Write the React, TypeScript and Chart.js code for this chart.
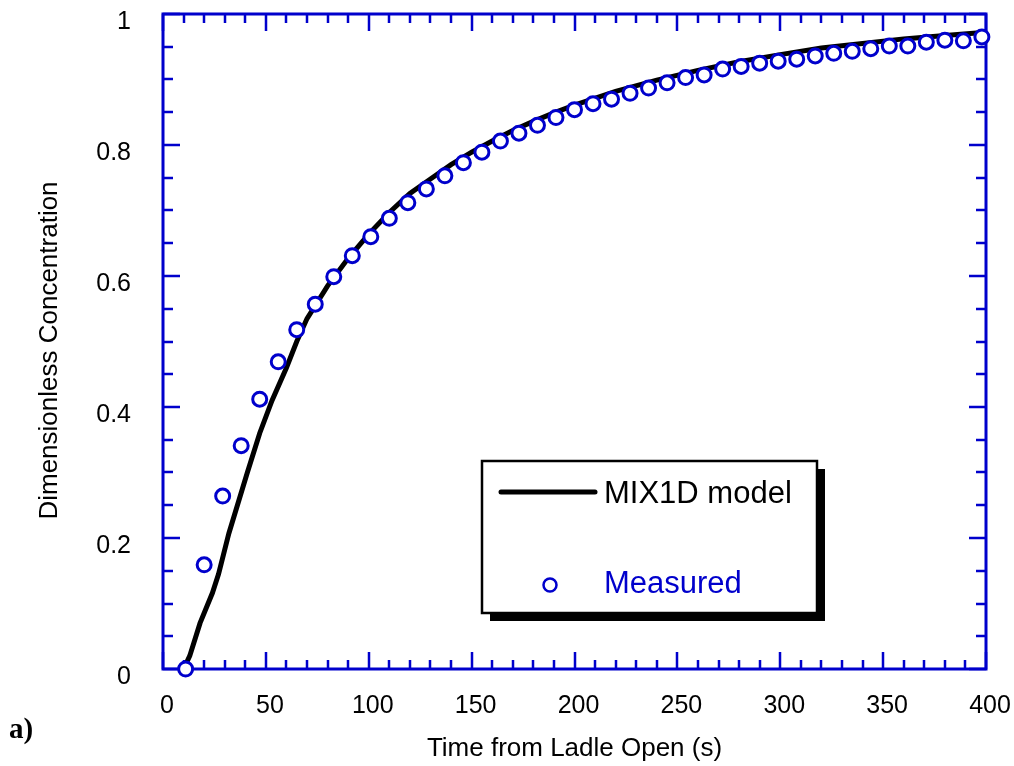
import React, { useEffect, useRef } from "react";
import { Chart, registerables } from "chart.js";

Chart.register(...registerables);

// ---- data ----
const measuredTime = [11, 20, 29, 38, 47, 56, 65, 74, 83, 92, 101, 110, 119, 128, 137, 146, 155, 164, 173, 182, 191, 200, 209, 218, 227, 236, 245, 254, 263, 272, 281, 290, 299, 308, 317, 326, 335, 344, 353, 362, 371, 380, 389, 398];
const measuredConc = [0.0, 0.159, 0.264, 0.341, 0.412, 0.469, 0.518, 0.557, 0.599, 0.631, 0.66, 0.688, 0.712, 0.733, 0.753, 0.773, 0.789, 0.806, 0.818, 0.83, 0.842, 0.854, 0.863, 0.87, 0.879, 0.887, 0.895, 0.903, 0.907, 0.916, 0.92, 0.925, 0.928, 0.931, 0.936, 0.94, 0.943, 0.947, 0.951, 0.951, 0.957, 0.96, 0.959, 0.965];

const modelTime = [10, 13, 18, 24, 27, 32, 41, 47, 53, 60, 65, 70, 80, 90, 100, 110, 120, 130, 140, 150, 160, 170, 180, 190, 200, 220, 240, 260, 280, 300, 320, 340, 360, 380, 400];
const modelConc = [0.0, 0.02, 0.07, 0.116, 0.145, 0.207, 0.3, 0.36, 0.41, 0.46, 0.5, 0.535, 0.585, 0.627, 0.664, 0.697, 0.726, 0.748, 0.77, 0.789, 0.806, 0.822, 0.836, 0.849, 0.861, 0.882, 0.899, 0.914, 0.927, 0.938, 0.948, 0.955, 0.962, 0.967, 0.972];

const xTickValues = [0, 50, 100, 150, 200, 250, 300, 350, 400];
const yTickValues = [0, 0.2, 0.4, 0.6, 0.8, 1];

const xTitle = "Time from Ladle Open (s)";
const yTitle = "Dimensionless Concentration";
const modelLabel = "MIX1D model";
const measuredLabel = "Measured";
const panelLabel = "a)";

const BLUE = "#0000cc";
const SANS = "'Liberation Sans', Arial, Helvetica, sans-serif";
const SERIF = "'Liberation Serif', 'Times New Roman', serif";

const decorPlugin = {
  id: "decor",
  beforeDatasetsDraw(chart: any) {
    const { ctx, chartArea: a, scales } = chart;
    const xs = scales.x;
    const ys = scales.y;
    ctx.save();
    ctx.strokeStyle = BLUE;
    ctx.lineWidth = 2.5;
    ctx.lineCap = "butt";
    for (let v = 0; v <= 400 + 1e-6; v += 10) {
      const major = Math.abs(v % 50) < 1e-6;
      const len = major ? 17 : 9;
      const px = Math.round(xs.getPixelForValue(v));
      ctx.beginPath();
      ctx.moveTo(px, a.bottom);
      ctx.lineTo(px, a.bottom - len);
      ctx.moveTo(px, a.top);
      ctx.lineTo(px, a.top + len);
      ctx.stroke();
    }
    for (let i = 0; i <= 20; i++) {
      const v = i * 0.05;
      const major = i % 4 === 0;
      const len = major ? 17 : 10;
      const py = Math.round(ys.getPixelForValue(v));
      ctx.beginPath();
      ctx.moveTo(a.left, py);
      ctx.lineTo(a.left + len, py);
      ctx.moveTo(a.right, py);
      ctx.lineTo(a.right - len, py);
      ctx.stroke();
    }
    ctx.lineWidth = 3;
    ctx.strokeRect(a.left, a.top, a.right - a.left, a.bottom - a.top);
    ctx.restore();
  },
  afterDraw(chart: any) {
    const { ctx } = chart;
    ctx.save();
    ctx.fillStyle = "#000";
    ctx.font = `26px ${SANS}`;
    ctx.textAlign = "center";
    ctx.textBaseline = "middle";
    ctx.translate(50, 350.5);
    ctx.rotate(-Math.PI / 2);
    ctx.fillText(yTitle, 0, 0);
    ctx.restore();

    ctx.save();
    ctx.fillStyle = "#000";
    ctx.font = `bold 29px ${SERIF}`;
    ctx.textAlign = "left";
    ctx.textBaseline = "alphabetic";
    ctx.fillText(panelLabel, 9, 738);
    ctx.restore();

    const bx = 482, by = 461, bw = 335, bh = 152;
    ctx.save();
    ctx.fillStyle = "#000";
    ctx.fillRect(bx + 8, by + 8, bw, bh);
    ctx.fillStyle = "#fff";
    ctx.fillRect(bx, by, bw, bh);
    ctx.strokeStyle = "#000";
    ctx.lineWidth = 2.5;
    ctx.strokeRect(bx, by, bw, bh);
    ctx.lineWidth = 5;
    ctx.lineCap = "round";
    ctx.beginPath();
    ctx.moveTo(501, 492);
    ctx.lineTo(595, 492);
    ctx.stroke();
    ctx.font = `31px ${SANS}`;
    ctx.textAlign = "left";
    ctx.textBaseline = "alphabetic";
    ctx.fillStyle = "#000";
    ctx.fillText(modelLabel, 604, 503);
    ctx.strokeStyle = BLUE;
    ctx.lineWidth = 2.5;
    ctx.beginPath();
    ctx.arc(550, 585, 6.5, 0, Math.PI * 2);
    ctx.fillStyle = "#fff";
    ctx.fill();
    ctx.stroke();
    ctx.fillStyle = BLUE;
    ctx.fillText(measuredLabel, 604, 593);
    ctx.restore();
  },
};

export default function App() {
  const ref = useRef<HTMLCanvasElement | null>(null);
  useEffect(() => {
    if (!ref.current) return;
    const chart = new Chart(ref.current, {
      type: "scatter",
      data: {
        datasets: [
          {
            label: measuredLabel,
            data: measuredTime.map((t, i) => ({ x: t, y: measuredConc[i] })),
            showLine: false,
            pointRadius: 7,
            pointHoverRadius: 7,
            pointBorderWidth: 3,
            pointBorderColor: BLUE,
            pointBackgroundColor: "#ffffff",
            clip: false,
            order: 1,
          } as any,
          {
            label: modelLabel,
            data: modelTime.map((t, i) => ({ x: t, y: modelConc[i] })),
            showLine: true,
            borderColor: "#000000",
            borderWidth: 5,
            pointRadius: 0,
            tension: 0,
            clip: false,
            order: 2,
          } as any,
        ],
      },
      options: {
        animation: false,
        responsive: false,
        maintainAspectRatio: false,
        layout: { padding: { top: 14, right: 28, left: 0, bottom: 0 } },
        plugins: { legend: { display: false }, tooltip: { enabled: false } },
        scales: {
          x: {
            type: "linear",
            min: 0,
            max: 400,
            afterFit: (s: any) => {
              s.height = 97;
              s.paddingLeft = 0;
              s.paddingRight = 0;
            },
            afterBuildTicks: (s: any) => {
              s.ticks = xTickValues.map((v) => ({ value: v }));
            },
            grid: { display: false, drawTicks: false },
            border: { display: false },
            ticks: {
              padding: 22,
              labelOffset: 4,
              maxRotation: 0,
              autoSkip: false,
              color: "#000",
              font: { family: SANS, size: 25 },
              callback: (v: any) => String(v),
            },
            title: {
              display: true,
              text: xTitle,
              color: "#000",
              font: { family: SANS, size: 26 },
              padding: { top: 0, bottom: 2 },
            },
          },
          y: {
            type: "linear",
            min: 0,
            max: 1,
            afterFit: (s: any) => {
              s.width = 163;
              s.paddingTop = 0;
              s.paddingBottom = 0;
            },
            afterBuildTicks: (s: any) => {
              s.ticks = yTickValues.map((v) => ({ value: v }));
            },
            grid: { display: false, drawTicks: false },
            border: { display: false },
            ticks: {
              padding: 32,
              labelOffset: 8,
              autoSkip: false,
              color: "#000",
              font: { family: SANS, size: 25 },
              callback: (v: any) => String(v),
            },
          },
        },
      },
      plugins: [decorPlugin],
    });
    return () => chart.destroy();
  }, []);
  return (
    <div style={{ position: "fixed", left: 0, top: 0, width: 1014, height: 766, background: "#fff" }}>
      <canvas ref={ref} width={1014} height={766} style={{ display: "block" }} />
    </div>
  );
}
